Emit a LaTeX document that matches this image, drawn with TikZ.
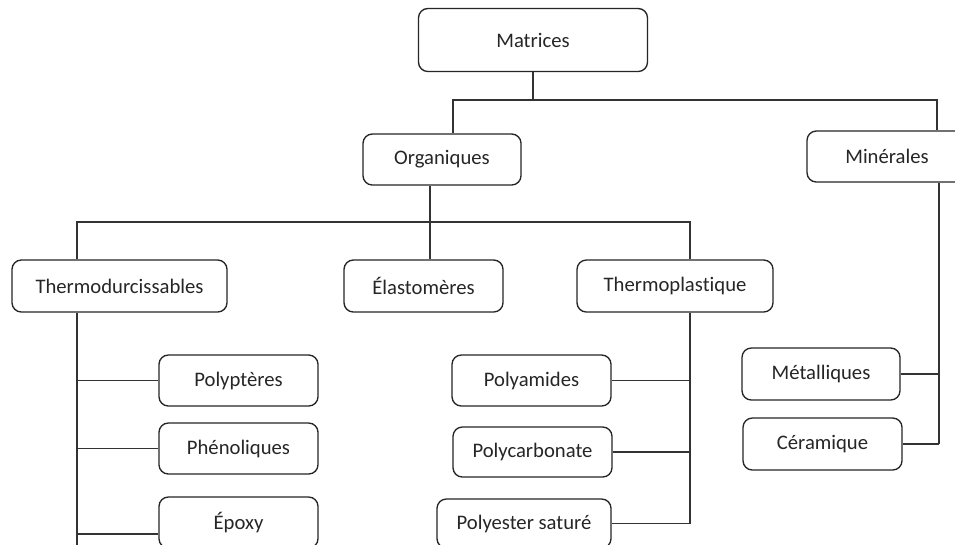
\documentclass[tikz,border=0pt]{standalone}
\usepackage{fontspec}
\setmainfont{Carlito}[Ligatures={NoCommon}]
\usetikzlibrary{calc}
\begin{document}
\begin{tikzpicture}[x=0.75pt,y=-0.75pt,
  box/.style={draw=black!85,line width=1pt,rounded corners=7pt,inner sep=0pt,
    font=\fontsize{15.5}{18}\selectfont,text=black!85},
  link/.style={draw=black!80,line width=1pt}]
\clip (0,0) rectangle (955,544);
\fill[white] (0,0) rectangle (955,544);
% nodes
\node[box,minimum width=229*0.75pt,minimum height=63*0.75pt] (Matrices) at (533,40) {Matrices};
\node[box,minimum width=158*0.75pt,minimum height=51*0.75pt] (Organiques) at (442,159.5) {Organiques};
\node[box,minimum width=160*0.75pt,minimum height=51*0.75pt] (Minerales) at (887,156.5) {Minérales};
\node[box,minimum width=215*0.75pt,minimum height=52*0.75pt] (Thermodur) at (119.5,286) {Thermodurcissables};
\node[box,minimum width=159*0.75pt,minimum height=52*0.75pt] (Elast) at (423.5,286) {Élastomères};
\node[box,minimum width=196*0.75pt,minimum height=52*0.75pt] (Thermoplast) at (675,286) {Thermoplastique};
\node[box,minimum width=159*0.75pt,minimum height=51*0.75pt] (Polypteres) at (238.5,380.5) {Polyptères};
\node[box,minimum width=159*0.75pt,minimum height=51*0.75pt] (Phenoliques) at (238.5,448.5) {Phénoliques};
\node[box,minimum width=159*0.75pt,minimum height=51*0.75pt] (Epoxy) at (238.5,522.5) {Époxy};
\node[box,minimum width=159*0.75pt,minimum height=51*0.75pt] (Polyamides) at (531.5,380.5) {Polyamides};
\node[box,minimum width=159*0.75pt,minimum height=50*0.75pt] (Polycarb) at (532.5,452) {Polycarbonate};
\node[box,minimum width=174*0.75pt,minimum height=49*0.75pt] (Polyester) at (524,523.5) {Polyester saturé};
\node[box,minimum width=158*0.75pt,minimum height=52*0.75pt] (Metal) at (821,374) {Métalliques};
\node[box,minimum width=159*0.75pt,minimum height=52*0.75pt] (Ceram) at (822.5,444) {Céramique};
% junction points
\coordinate (b1L) at (453,100);
\coordinate (b1R) at (937,100);
\coordinate (b2) at (430,222);
\coordinate (b2L) at (77,222);
\coordinate (b2R) at (690,222);
\coordinate (sMin) at (939,182);
\coordinate (endL) at (77,550);
% connectors
\draw[link] (Matrices.south) -- (Matrices.south |- b1L);
\draw[link] (b1L |- Organiques.north) -- (b1L) -- (b1R) -- (b1R |- Minerales.north);
\draw[link] (b2 |- Organiques.south) -- (b2);
\draw[link] (b2L |- Thermodur.north) -- (b2L) -- (b2R) -- (b2R |- Thermoplast.north);
\draw[link] (b2) -- (b2 |- Elast.north);
% Thermodurcissables branch
\draw[link] (b2L |- Thermodur.south) -- (endL);
\draw[link] (Polypteres.west) -- (Polypteres.west -| b2L);
\draw[link] (Phenoliques.west) -- (Phenoliques.west -| b2L);
\draw[link] ($(Epoxy.west)+(0,11.5)$) -- ($(Epoxy.west -| b2L)+(0,11.5)$);
% Thermoplastique branch
\draw[link] (b2R |- Thermoplast.south) -- (b2R |- Polyester.east);
\draw[link] (Polyamides.east) -- (Polyamides.east -| b2R);
\draw[link] (Polycarb.east) -- (Polycarb.east -| b2R);
\draw[link] (Polyester.east) -- (Polyester.east -| b2R);
% Minerales branch
\draw[link] (sMin |- Minerales.south) -- (sMin |- Ceram.east);
\draw[link] (Metal.east) -- (Metal.east -| sMin);
\draw[link] (Ceram.east) -- (Ceram.east -| sMin);
\end{tikzpicture}
\end{document}
